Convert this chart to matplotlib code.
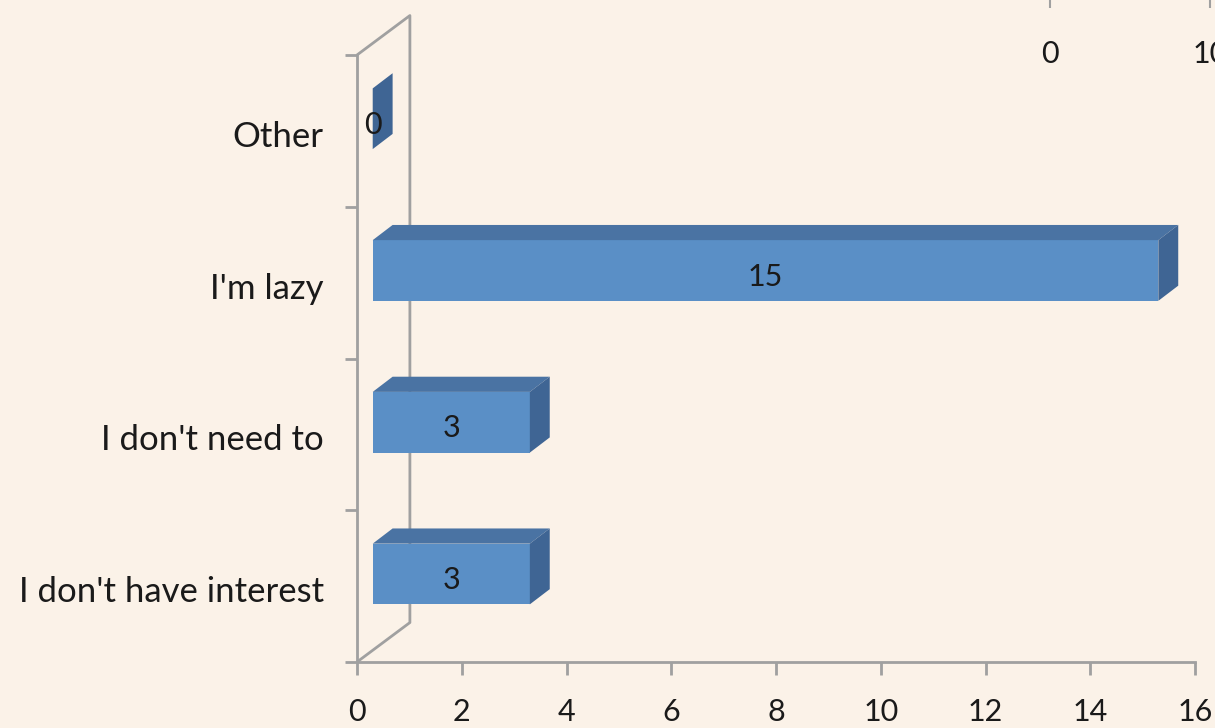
import numpy as np
import matplotlib
matplotlib.use("Agg")
import matplotlib.pyplot as plt
from matplotlib.patches import Polygon

plt.rcParams['font.family'] = ['Lato', 'DejaVu Sans']

# data
categories = ["I don't have interest", "I don't need to", "I'm lazy", "Other"]
values = [3, 3, 15, 0]
x_ticks = [0, 2, 4, 6, 8, 10, 12, 14, 16]
top_ticks = [0, 10]

bg = '#FBF2E8'
front_c = '#5A8FC6'
top_c = '#4A73A3'
side_c = '#3F6594'
grey = '#A0A0A0'

# 3d look (data units)
bar_dx, bar_dy = 0.38, 0.10
wall_dx, wall_dy = 1.01, 0.26
bar_h = 0.40
shift = 0.30

fig = plt.figure(figsize=(12.15, 7.28), dpi=100, facecolor=bg)
ax = fig.add_axes([357 / 1215, 66 / 728, 838 / 1215, 607 / 728])
ax.set_facecolor(bg)
ax.set_xlim(0, 16)
ax.set_ylim(0, 4)

# back wall outline
ax.plot([0, wall_dx, wall_dx, 0], [0, wall_dy, 4 + wall_dy, 4], color=grey, lw=2,
        clip_on=False, zorder=1, solid_capstyle='butt')

y = np.arange(len(categories)) + 0.58
ax.barh(y, values, height=bar_h, left=shift, color=front_c, edgecolor='none', zorder=3)
for yi, v in zip(y, values):
    x0, x1 = shift, shift + v
    y0, y1 = yi - bar_h / 2, yi + bar_h / 2
    if v > 0:
        ax.add_patch(Polygon([(x0, y1), (x1, y1), (x1 + bar_dx, y1 + bar_dy), (x0 + bar_dx, y1 + bar_dy)],
                             closed=True, facecolor=top_c, edgecolor='none', zorder=3))
    ax.add_patch(Polygon([(x1, y0), (x1, y1), (x1 + bar_dx, y1 + bar_dy), (x1 + bar_dx, y0 + bar_dy)],
                         closed=True, facecolor=side_c, edgecolor='none', zorder=3, clip_on=False))
    ax.text(x0 + v / 2, yi - 0.04, str(v), ha='center', va='center', fontsize=22, color='#1a1a1a', zorder=4)

for s in ['top', 'right']:
    ax.spines[s].set_visible(False)
for s in ['left', 'bottom']:
    ax.spines[s].set_color(grey)
    ax.spines[s].set_linewidth(2)
    ax.spines[s].set_zorder(2)

ax.set_xticks(x_ticks)
ax.tick_params(axis='x', length=9, width=2, color=grey, labelsize=22, pad=17, labelcolor='#1a1a1a')
ax.set_yticks(range(5))
ax.set_yticklabels([])
ax.set_yticks(np.arange(len(categories)) + 0.48, categories, minor=True)
ax.tick_params(axis='y', which='major', length=9, width=2, color=grey)
ax.tick_params(axis='y', which='minor', length=0, labelsize=25, pad=24, labelcolor='#1a1a1a')

# secondary axis at the top, mostly cut off
ax2 = fig.add_axes([1050 / 1215, 720 / 728, 160 / 1215, 0.05])
ax2.set_xlim(0, 10)
ax2.set_xticks(top_ticks)
ax2.set_yticks([])
ax2.patch.set_alpha(0)
for s in ax2.spines.values():
    s.set_visible(False)
ax2.tick_params(axis='x', direction='in', length=7, width=1.5, color=grey, labelsize=22, pad=23,
                labelcolor='#1a1a1a')

fig.savefig('out.png', dpi=100, facecolor=bg)
